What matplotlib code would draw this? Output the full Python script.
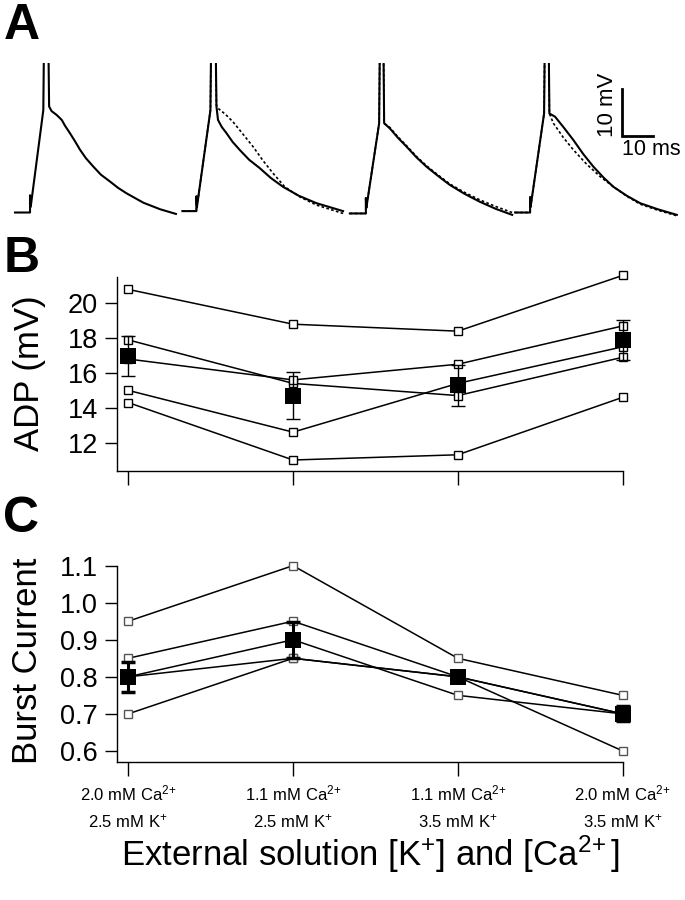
import matplotlib
matplotlib.use("Agg")
import matplotlib.pyplot as plt

plt.rcParams["font.family"] = ["Liberation Sans", "DejaVu Sans"]
plt.rcParams["mathtext.fontset"] = "custom"
plt.rcParams["mathtext.rm"] = "Liberation Sans"
plt.rcParams["mathtext.it"] = "Liberation Sans:italic"
plt.rcParams["mathtext.bf"] = "Liberation Sans:bold"

# --- panel A: example traces (ms from trace start, mV above rest) ---
trace_offsets = [0, 54, 108, 161.3]

t1 = [0, 4.84, 4.84, 5.06, 9.13, 10.0, 11.0, 11.8, 13.4, 15.1, 16.1, 17.7, 19.4, 21.0, 22.9, 25.3, 27.7,
      30.7, 33.2, 36.0, 41.4, 46.8, 51.9]
v1 = [0, 0, 3.7, 1.2, 21.9, 80, 22.7, 21.7, 20.9, 19.8, 18.6, 17.0, 15.2, 13.4, 11.6, 9.8, 8.1,
      6.6, 5.3, 4.1, 2.1, 0.7, -0.3]

t2 = [0, 4.52, 4.52, 4.68, 9.03, 9.94, 10.97, 11.48, 12.7, 14.19, 16.2, 18.48, 21.5, 24.94, 28.5, 32.45,
      37.5, 43.23, 51.81]
v2 = [0.3, 0.3, 3.5, 1.2, 21.9, 80, 22.7, 19.8, 18.3, 17.0, 15.1, 13.4, 11.3, 9.5, 7.4, 5.5,
      3.6, 2.0, 0.3]
t2d = [0, 4.52, 4.52, 4.68, 9.03, 9.94, 10.97, 11.48, 13.9, 16.32, 19.5, 22.77, 26.0, 29.23, 33.0,
       38.0, 43.23, 51.81]
v2d = [0.3, 0.3, 3.5, 1.2, 21.9, 80, 23.0, 22.3, 21.0, 19.4, 16.8, 14.1, 11.1, 8.4, 5.5,
       3.3, 1.6, -0.2]

t3 = [0, 5.16, 5.16, 5.32, 9.45, 10.26, 11.06, 12.9, 15.5, 18.29, 21.5, 24.74, 28.5, 32.26, 37.0,
      41.94, 47.0, 52.35]
v3 = [-0.2, -0.2, 3.1, 1.0, 19.1, 80, 19.1, 18.0, 16.0, 14.1, 11.8, 9.8, 7.8, 5.9, 4.0,
      2.3, 0.8, -0.5]
v3d = [-0.2, -0.2, 3.1, 1.0, 19.1, 80, 19.1, 18.2, 16.2, 14.3, 12.0, 10.0, 8.0, 6.1, 4.3,
       2.7, 1.3, 0.0]

t4 = [0, 4.84, 4.84, 5.0, 9.35, 10.2, 11.06, 12.9, 15.8, 18.81, 22.0, 25.26, 28.5, 31.71, 36.0,
      40.32, 46.0, 52.16]
v4 = [0, 0, 3.3, 1.2, 21.2, 80, 21.2, 20.5, 18.1, 15.5, 12.5, 9.8, 7.5, 5.5, 3.6,
      2.0, 0.7, -0.5]
t4d = [0, 4.84, 4.84, 5.0, 9.35, 10.2, 11.06, 12.35, 15.5, 18.81, 23.0, 27.42, 31.71, 36.0,
       40.32, 46.0, 52.16]
v4d = [0, 0, 3.3, 1.2, 21.2, 80, 21.2, 19.1, 16.1, 13.4, 10.4, 7.7, 5.5, 3.5,
       1.8, 0.5, -0.7]

# --- panel B / C data ---
conditions = [
    "2.0 mM Ca$^{2\\!+}$\n2.5 mM K$^{+}$",
    "1.1 mM Ca$^{2\\!+}$\n2.5 mM K$^{+}$",
    "1.1 mM Ca$^{2\\!+}$\n3.5 mM K$^{+}$",
    "2.0 mM Ca$^{2\\!+}$\n3.5 mM K$^{+}$",
]

adp_cells = [
    [20.8, 18.8, 18.4, 21.6],
    [17.9, 15.4, 14.7, 16.9],
    [16.8, 15.6, 16.5, 18.7],
    [15.0, 12.6, 15.4, 17.5],
    [14.3, 11.0, 11.3, 14.6],
]
adp_mean = [17.0, 14.7, 15.3, 17.9]
adp_sem = [1.15, 1.35, 1.17, 1.15]

burst_cells = [
    [0.95, 1.10, 0.85, 0.75],
    [0.85, 0.95, 0.80, 0.70],
    [0.80, 0.90, 0.75, 0.70],
    [0.80, 0.85, 0.80, 0.60],
    [0.70, 0.85, 0.80, 0.70],
]
burst_mean = [0.80, 0.90, 0.80, 0.70]
burst_sem = [0.04, 0.048, 0.01, 0.02]

xpos = list(range(len(conditions)))

fig = plt.figure(figsize=(6.85, 9.0), dpi=100)

# ---------------- A ----------------
axA = fig.add_axes([0.0, 0.7444, 1.0, 0.1856])
axA.set_xlim(-4.84, 216.1)
axA.set_ylim(-3.75, 32.0)
axA.axis("off")

solid = [(t1, v1), (t2, v2), (t3, v3), (t4, v4)]
dashed = [None, (t2d, v2d), (t3, v3d), (t4d, v4d)]
for off, s, d in zip(trace_offsets, solid, dashed):
    if d is not None:
        axA.plot([t + off for t in d[0]], d[1], color="black", lw=1.2,
                 linestyle=(0, (1.6, 1.4)))
    axA.plot([t + off for t in s[0]], s[1], color="black", lw=1.5)

# scale bar 10 mV / 10 ms
sb_t, sb_v = 195.7, 16.4
axA.plot([sb_t, sb_t, sb_t + 10], [sb_v + 10, sb_v, sb_v], color="black", lw=2,
         solid_joinstyle="miter", clip_on=False)
axA.text(sb_t - 4.6, sb_v + 6.6, "10 mV", rotation=90, ha="center", va="center", fontsize=16)
axA.text(sb_t + 9.4, sb_v - 3.0, "10 ms", ha="center", va="center", fontsize=15.5)


def style_axes(ax):
    for side in ("top", "right"):
        ax.spines[side].set_visible(False)
    for side in ("left", "bottom"):
        ax.spines[side].set_linewidth(1.0)
    ax.set_xlim(-0.065, 3.0)
    ax.set_xticks(xpos)
    ax.tick_params(axis="y", direction="out", length=9, width=1, labelsize=19.5, pad=5)
    ax.tick_params(axis="x", direction="out", length=10, width=1)


# ---------------- B ----------------
axB = fig.add_axes([0.1715, 0.4767, 0.7375, 0.2159])
style_axes(axB)
axB.set_ylim(10.37, 21.53)
axB.set_yticks([12, 14, 16, 18, 20])
axB.set_xticklabels([])
for vals in adp_cells:
    axB.plot(xpos, vals, color="black", lw=1.1, marker="s", ms=5.5, mfc="white",
             mec="black", mew=1.0, clip_on=False, zorder=3)
axB.errorbar(xpos, adp_mean, yerr=adp_sem, fmt="none", ecolor="black",
             elinewidth=1.0, capsize=5, capthick=1.0, zorder=4, clip_on=False)
axB.plot(xpos, adp_mean, linestyle="none", marker="s", ms=11, color="black",
         mew=0, zorder=5, clip_on=False)
axB.set_ylabel("ADP (mV)", fontsize=25, va="center")
axB.yaxis.set_label_coords(-0.175, 0.504)

# ---------------- C ----------------
axC = fig.add_axes([0.1715, 0.1537, 0.7375, 0.2178])
style_axes(axC)
axC.set_ylim(0.571, 1.1)
axC.set_yticks([0.6, 0.7, 0.8, 0.9, 1.0, 1.1])
axC.set_yticklabels([f"{v:.1f}" for v in [0.6, 0.7, 0.8, 0.9, 1.0, 1.1]])
axC.set_xticklabels(conditions, fontsize=12, linespacing=1.6)
axC.tick_params(axis="x", pad=6)
for vals in burst_cells:
    axC.plot(xpos, vals, color="black", lw=1.1, marker="s", ms=5.5, mfc="white",
             mec="#555555", mew=1.0, clip_on=False, zorder=3)
axC.errorbar(xpos, burst_mean, yerr=burst_sem, fmt="none", ecolor="black",
             elinewidth=2.2, capsize=5, capthick=2.5, zorder=4, clip_on=False)
axC.plot(xpos, burst_mean, linestyle="none", marker="s", ms=11, color="black",
         mew=0, zorder=5, clip_on=False)
axC.set_ylabel("Burst Current", fontsize=25, va="center")
axC.yaxis.set_label_coords(-0.178, 0.514)
axC.set_xlabel("External solution [K$^{+}$] and [Ca$^{2\\!+}$]", fontsize=25, labelpad=2)

# panel letters
fig.text(0.005, 0.9567, "A", fontsize=36, fontweight="bold", va="baseline")
fig.text(0.005, 0.6978, "B", fontsize=36, fontweight="bold", va="baseline")
fig.text(0.005, 0.4089, "C", fontsize=36, fontweight="bold", va="baseline")

fig.savefig("out.png", dpi=100, facecolor="white")
plt.close(fig)
